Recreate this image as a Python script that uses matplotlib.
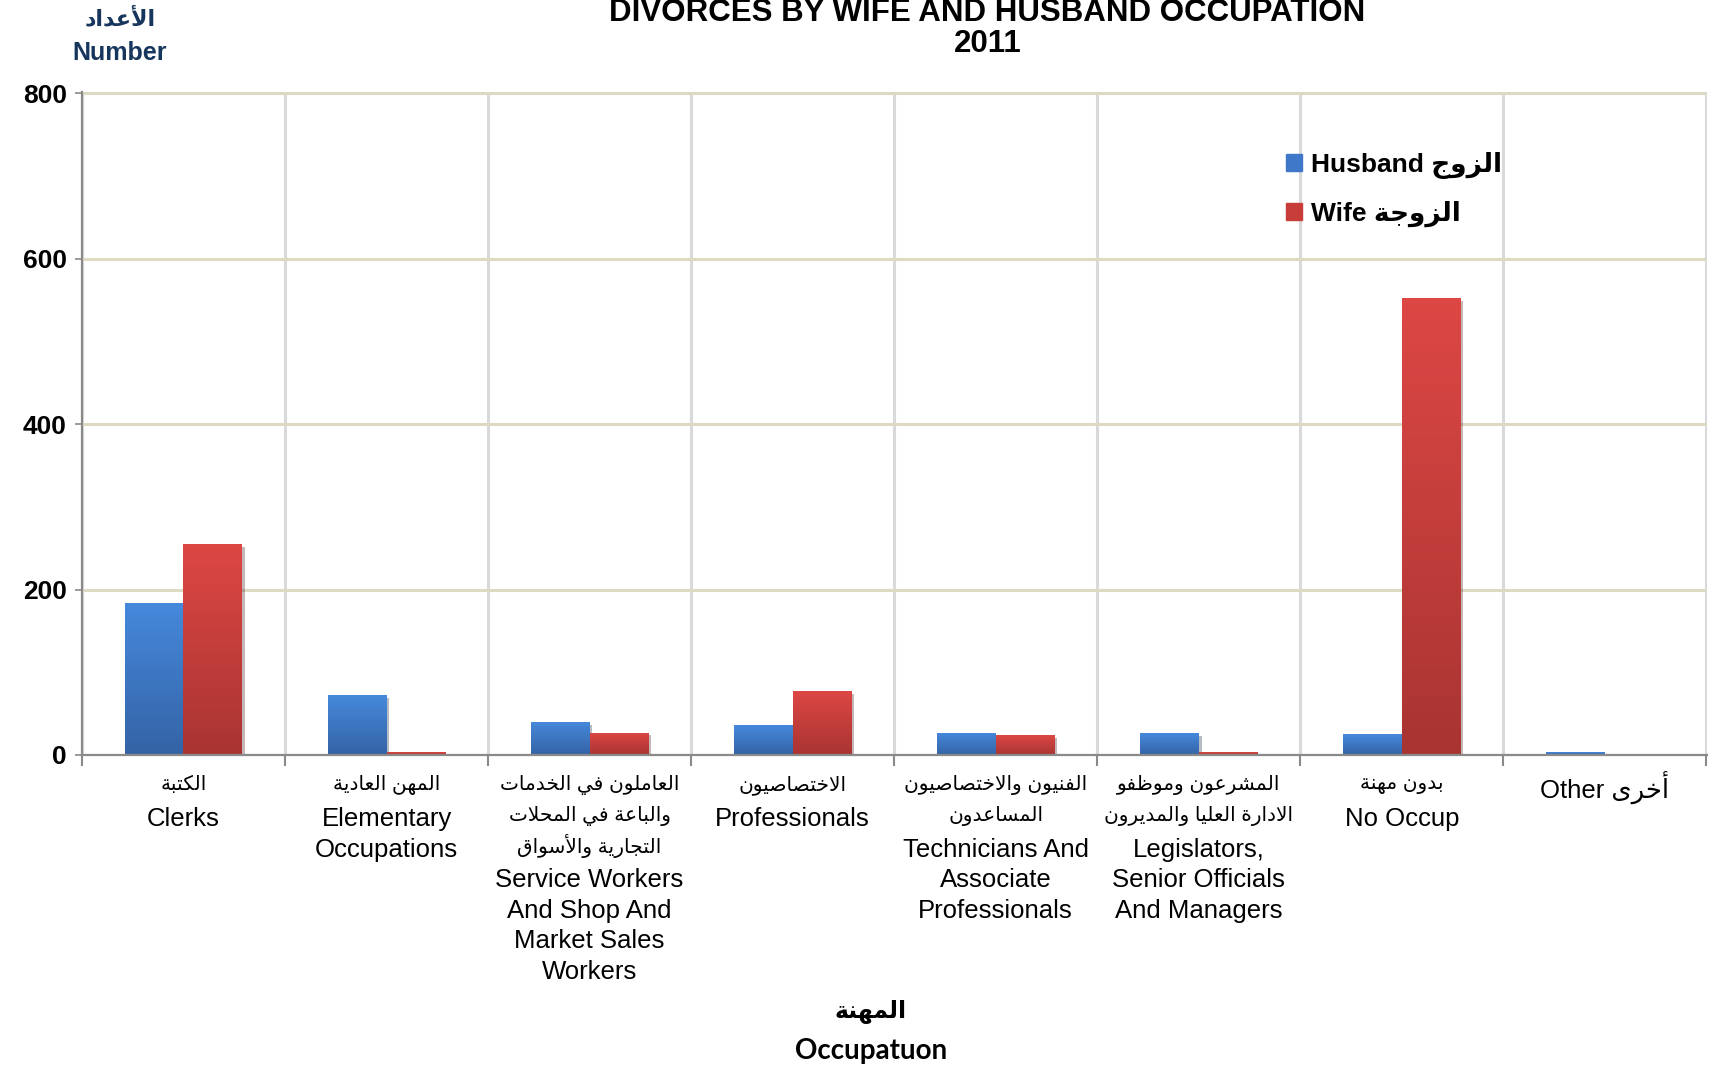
import numpy as np
import matplotlib
matplotlib.use("Agg")
import matplotlib.pyplot as plt
from matplotlib import font_manager as fm
from matplotlib import patheffects as pe
from matplotlib.colors import LinearSegmentedColormap
from matplotlib.patches import Patch

# data
husband = [184, 72, 40, 36, 27, 26, 25, 3]
wife = [255, 3, 27, 77, 24, 3, 552, 1.5]

ar_labels = [
    ["الكتبة"],
    ["المهن العادية"],
    ["العاملون في الخدمات", "والباعة في المحلات", "التجارية والأسواق"],
    ["الاختصاصيون"],
    ["الفنيون والاختصاصيون", "المساعدون"],
    ["المشرعون وموظفو", "الادارة العليا والمديرون"],
    ["بدون مهنة"],
    [],
]
en_labels = [
    ["Clerks"],
    ["Elementary", "Occupations"],
    ["Service Workers", "And Shop And", "Market Sales", "Workers"],
    ["Professionals"],
    ["Technicians And", "Associate", "Professionals"],
    ["Legislators,", "Senior Officials", "And Managers"],
    ["No Occup"],
    ["Other @أخرى"],
]
yticks = [0, 200, 400, 600, 800]

# --- tiny arabic shaper (matplotlib 3.10 has no RTL/joining support) ---
FORMS = {
    'ا': ('\uFE8D', '\uFE8E', None, None),
    'أ': ('\uFE83', '\uFE84', None, None),
    'ب': ('\uFE8F', '\uFE90', '\uFE91', '\uFE92'),
    'ة': ('\uFE93', '\uFE94', None, None),
    'ت': ('\uFE95', '\uFE96', '\uFE97', '\uFE98'),
    'ج': ('\uFE9D', '\uFE9E', '\uFE9F', '\uFEA0'),
    'ح': ('\uFEA1', '\uFEA2', '\uFEA3', '\uFEA4'),
    'خ': ('\uFEA5', '\uFEA6', '\uFEA7', '\uFEA8'),
    'د': ('\uFEA9', '\uFEAA', None, None),
    'ر': ('\uFEAD', '\uFEAE', None, None),
    'ز': ('\uFEAF', '\uFEB0', None, None),
    'س': ('\uFEB1', '\uFEB2', '\uFEB3', '\uFEB4'),
    'ش': ('\uFEB5', '\uFEB6', '\uFEB7', '\uFEB8'),
    'ص': ('\uFEB9', '\uFEBA', '\uFEBB', '\uFEBC'),
    'ظ': ('\uFEC5', '\uFEC6', '\uFEC7', '\uFEC8'),
    'ع': ('\uFEC9', '\uFECA', '\uFECB', '\uFECC'),
    'ف': ('\uFED1', '\uFED2', '\uFED3', '\uFED4'),
    'ق': ('\uFED5', '\uFED6', '\uFED7', '\uFED8'),
    'ك': ('\uFED9', '\uFEDA', '\uFEDB', '\uFEDC'),
    'ل': ('\uFEDD', '\uFEDE', '\uFEDF', '\uFEE0'),
    'م': ('\uFEE1', '\uFEE2', '\uFEE3', '\uFEE4'),
    'ن': ('\uFEE5', '\uFEE6', '\uFEE7', '\uFEE8'),
    'ه': ('\uFEE9', '\uFEEA', '\uFEEB', '\uFEEC'),
    'و': ('\uFEED', '\uFEEE', None, None),
    'ى': ('\uFEEF', '\uFEF0', None, None),
    'ي': ('\uFEF1', '\uFEF2', '\uFEF3', '\uFEF4'),
}
LAM_ALEF = {'ا': ('\uFEFB', '\uFEFC'), 'أ': ('\uFEF7', '\uFEF8')}


def ar(s):
    units = []
    i = 0
    while i < len(s):
        if s[i] == 'ل' and i + 1 < len(s) and s[i + 1] in LAM_ALEF:
            units.append(('LA', s[i + 1]))
            i += 2
        else:
            units.append((s[i], None))
            i += 1

    def dual(u):
        return u[0] in FORMS and FORMS[u[0]][2] is not None

    def joins(u):
        return u[0] == 'LA' or u[0] in FORMS

    out = []
    for k, u in enumerate(units):
        prev = units[k - 1] if k > 0 else None
        nxt = units[k + 1] if k + 1 < len(units) else None
        jp = prev is not None and dual(prev) and joins(u)
        jn = nxt is not None and dual(u) and joins(nxt)
        if u[0] == 'LA':
            f = LAM_ALEF[u[1]]
            out.append(f[1] if jp else f[0])
        elif u[0] in FORMS:
            iso, fin, ini, med = FORMS[u[0]]
            out.append(med if (jp and jn) else fin if jp else ini if jn else iso)
        else:
            out.append(u[0])
    return ''.join(out)[::-1]


names = {f.name for f in fm.fontManager.ttflist}
narrow = 'Liberation Sans Narrow' if 'Liberation Sans Narrow' in names else 'Liberation Sans'
ARIAL = ['Liberation Sans', 'DejaVu Sans']
NARROW = [narrow, 'DejaVu Sans']
CALIBRI = ['Lato', 'DejaVu Sans']
plt.rcParams['font.family'] = ARIAL

fig = plt.figure(figsize=(17.14, 10.71), dpi=100)
ax = fig.add_axes([0.0478, 0.2951, 0.948, 0.619])

x = np.arange(len(husband))
w = 0.29
shadow = [pe.SimplePatchShadow(offset=(2, -2), alpha=0.3), pe.Normal()]
b1 = ax.bar(x - w / 2, husband, w, color='#3f78c8', zorder=3, path_effects=shadow)
b2 = ax.bar(x + w / 2, wife, w, color='#c83c3a', zorder=3, path_effects=shadow)

# vertical gradient fill inside each bar
grad = np.linspace(0, 1, 256).reshape(-1, 1)
for bars, lo, hi in [(b1, '#3463a5', '#4689dc'), (b2, '#a83432', '#dd4744')]:
    cmap = LinearSegmentedColormap.from_list('g', [lo, hi])
    for r in bars:
        x0, y0 = r.get_x(), r.get_y()
        im = ax.imshow(grad, extent=[x0, x0 + r.get_width(), y0, y0 + r.get_height()],
                       origin='lower', aspect='auto', cmap=cmap, zorder=3.5)
        im.set_clip_path(r)

ax.set_xlim(-0.5, 7.502)
ax.set_ylim(0, 801.5)
ax.set_yticks(yticks)
ax.set_yticklabels([str(v) for v in yticks], fontfamily=NARROW, fontweight='bold', fontsize=19)
ax.set_xticks(x)
ax.set_xticklabels([])
ax.set_xticks(np.arange(-0.5, 8, 1), minor=True)
ax.tick_params(axis='x', which='major', length=0)
ax.tick_params(axis='x', which='minor', length=8, width=1.5, color='#8a8a8a')
ax.tick_params(axis='y', length=5, width=1.2, color='#8a8a8a', pad=6)

ax.set_axisbelow(True)
ax.grid(axis='y', which='major', color='#ddd9c3', linewidth=2.2)
ax.grid(axis='x', which='minor', color='#d9d9d9', linewidth=2.2)
for s in ['top', 'right']:
    ax.spines[s].set_visible(False)
for s in ['left', 'bottom']:
    ax.spines[s].set_color('#8a8a8a')
    ax.spines[s].set_linewidth(1.6)
ax.spines['bottom'].set_zorder(4)

# category labels: arabic lines above english lines
pitch = 30.6 * 0.72
first = 30 * 0.72
for i in range(len(husband)):
    for j, t in enumerate(ar_labels[i]):
        ax.annotate(ar(t), xy=(i, 0), xycoords=('data', 'axes fraction'),
                    xytext=(0, -(first + j * pitch)), textcoords='offset points',
                    ha='center', va='center', fontsize=14.5, fontfamily=ARIAL)
    n = len(ar_labels[i])
    for j, t in enumerate(en_labels[i]):
        if '@' in t:
            a, b = t.split('@')
            t = a + ar(b)
        ax.annotate(t, xy=(i, 0), xycoords=('data', 'axes fraction'),
                    xytext=(0, -(first + 2.5 + (n + j) * pitch)), textcoords='offset points',
                    ha='center', va='center', fontsize=18.5, fontfamily=ARIAL)

# legend
handles = [Patch(color='#3f78c8'), Patch(color='#c83c3a')]
ax.legend(handles, ['Husband ' + ar('الزوج'), 'Wife ' + ar('الزوجة')],
          loc='upper left', bbox_to_anchor=(0.741, 0.91), frameon=False,
          borderpad=0, borderaxespad=0, handlelength=0.6, handleheight=0.6,
          handletextpad=0.35, labelspacing=0.85,
          prop={'family': ARIAL, 'weight': 'bold', 'size': 19})

# titles
fig.text(0.576, 0.9875, 'DIVORCES BY WIFE AND HUSBAND OCCUPATION', ha='center', va='center',
         fontsize=22.5, fontweight='bold')
fig.text(0.576, 0.959, '2011', ha='center', va='center', fontsize=22.5, fontweight='bold')
fig.text(0.070, 0.9823, ar('الأعداد'), ha='center', va='center', fontsize=16,
         fontweight='bold', color='#17365d', family=ARIAL)
fig.text(0.070, 0.9505, 'Number', ha='center', va='center', fontsize=18,
         fontweight='bold', color='#17365d', family=NARROW)
fig.text(0.508, 0.056, ar('المهنة'), ha='center', va='center', fontsize=17,
         fontweight='bold', family=CALIBRI)
fig.text(0.508, 0.0187, 'Occupatuon', ha='center', va='center', fontsize=20,
         fontweight='bold', family=CALIBRI)

fig.savefig('out.png', dpi=100, facecolor='white')
